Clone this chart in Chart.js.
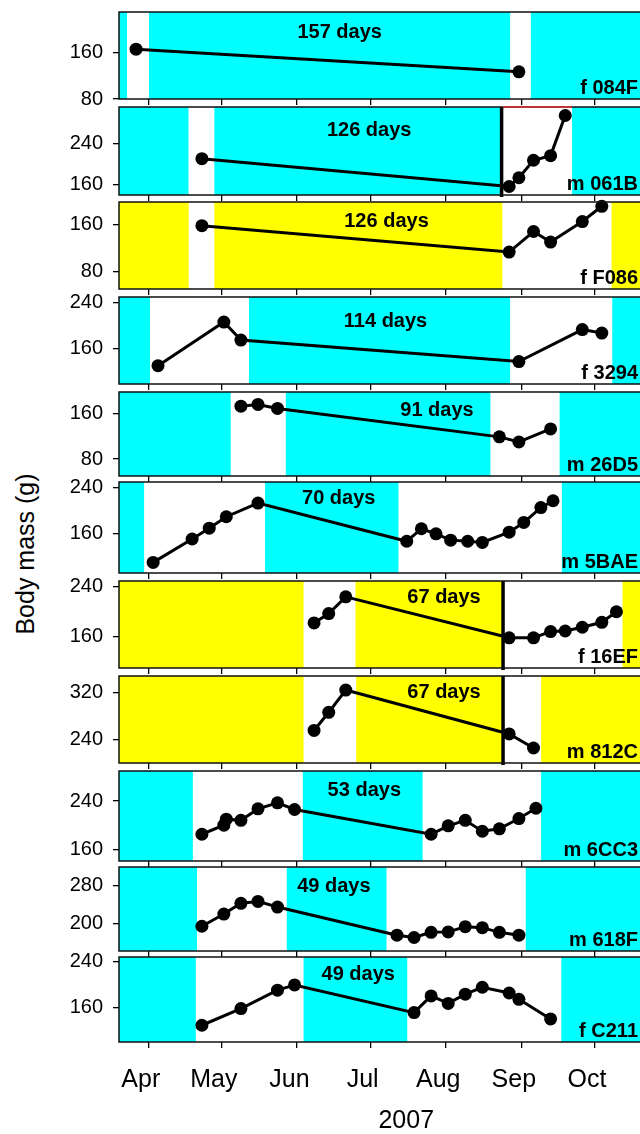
<!DOCTYPE html>
<html><head><meta charset="utf-8">
<script src="https://cdn.jsdelivr.net/npm/chart.js@4.4.1/dist/chart.umd.min.js"></script>
<style>
html,body{margin:0;padding:0;background:#fff;overflow:hidden;width:640px;height:1134px}
#wrap{position:relative;width:640px;height:1134px;overflow:hidden;background:#fff}
canvas.panel{position:absolute;left:0}
#ytitle{position:absolute;left:-125px;top:539px;width:300px;height:30px;line-height:30px;text-align:center;
 font-family:"Liberation Sans",Arial,Helvetica,sans-serif;font-size:25px;color:#000;transform:rotate(-90deg);transform-origin:50% 50%;white-space:nowrap}
</style></head><body><div id="wrap"><div id="ytitle">Body mass (g)</div></div>
<script>
// ---------- data (day of year 2007) ----------
const monthDays   = [91, 121, 152, 182, 213, 244, 274];
const monthLabels = ['Apr', 'May', 'Jun', 'Jul', 'Aug', 'Sep', 'Oct'];
const xTitle = '2007';
const yTitle = 'Body mass (g)';

const animalIds = ['f 084F','m 061B','f F086','f 3294','m 26D5','m 5BAE','f 16EF','m 812C','m 6CC3','m 618F','f C211'];
const dayCounts = [157, 126, 126, 114, 91, 70, 67, 67, 53, 49, 49];

const days_084F = [86, 243];
const mass_084F = [166, 127];
const days_061B = [113, 239, 243, 249, 256, 262];
const mass_061B = [211, 157, 174, 208, 217, 295];
const days_F086 = [113, 239, 249, 256, 269, 277];
const mass_F086 = [158, 113, 148, 130, 165, 191];
const days_3294 = [95, 122, 129, 243, 269, 277];
const mass_3294 = [131, 206, 175, 138, 193, 187];
const days_26D5 = [129, 136, 144, 235, 243, 256];
const mass_26D5 = [173, 176, 169, 119, 110, 133];
const days_5BAE = [93, 109, 116, 123, 136, 197, 203, 209, 215, 222, 228, 239, 245, 252, 257];
const mass_5BAE = [109, 150, 169, 189, 213, 146, 168, 159, 148, 146, 144, 162, 179, 205, 217];
const days_16EF = [159, 165, 172, 239, 249, 256, 262, 269, 277, 283];
const mass_16EF = [182, 197, 224, 158, 158, 168, 169, 175, 183, 200];
const days_812C = [159, 165, 172, 239, 249];
const mass_812C = [255, 286, 324, 249, 225];
const days_6CC3 = [113, 122, 123, 129, 136, 144, 151, 207, 214, 221, 228, 235, 243, 250];
const mass_6CC3 = [185, 200, 210, 208, 227, 237, 226, 185, 199, 208, 190, 194, 211, 228];
const days_618F = [113, 122, 129, 136, 144, 193, 200, 207, 214, 221, 228, 235, 243];
const mass_618F = [194, 220, 243, 247, 235, 175, 170, 181, 182, 193, 191, 181, 175];
const days_C211 = [113, 129, 144, 151, 200, 207, 214, 221, 228, 239, 243, 256];
const mass_C211 = [129, 158, 190, 199, 151, 180, 167, 183, 195, 185, 174, 140];

// hibernation (shaded) periods, start/end day
const hib_084F = [[60, 82.3], [91.3, 239.4], [247.9, 330]];
const hib_061B = [[60, 107.5], [118.1, 235.5], [264.8, 330]];
const hib_F086 = [[60, 107.6], [118.1, 236.2], [281.0, 330]];
const hib_3294 = [[60, 91.7], [132.3, 239.4], [281.3, 330]];
const hib_26D5 = [[60, 124.8], [147.4, 231.3], [259.7, 330]];
const hib_5BAE = [[60, 89.3], [138.9, 193.6], [260.6, 330]];
const hib_16EF = [[60, 154.7], [176.0, 236.2], [285.5, 330]];
const hib_812C = [[60, 154.7], [176.3, 236.2], [252.1, 330]];
const hib_6CC3 = [[60, 109.3], [154.4, 203.5], [252.1, 330]];
const hib_618F = [[60, 111.0], [147.8, 188.7], [245.8, 330]];
const hib_C211 = [[60, 110.5], [154.7, 197.2], [260.4, 330]];

// marker day (thick vertical line), null if none
const markerDays = [null, 235.9, null, null, null, null, 236.5, 236.5, null, null, null];
// thin red segment on the top edge (panel m 061B), start/end day
const redTopSeg = [null, [236.5, 264.8], null, null, null, null, null, null, null, null, null];

// y-axis tick values and ranges
const yTicksList = [[80,160],[160,240],[80,160],[160,240],[80,160],[160,240],[160,240],[240,320],[160,240],[200,280],[160,240]];
const yRanges = [[80,230.3],[140.5,311.5],[50.1,198.3],[99.4,249.1],[50.2,197.9],[90.4,249.9],[109.3,249.6],[199.4,348],[140.7,289.7],[141.2,320.4],[99.9,247.6]];

// day label position (day of year)
const dayLabelDay = [169.5, 181.6, 188.7, 188.3, 209.4, 169.1, 212.3, 212.3, 179.6, 167.1, 177.1];

// ---------- layout / style ----------
const CYAN = '#00FFFF', YELLOW = '#FFFF00';
const shadeColors = [CYAN, CYAN, YELLOW, CYAN, CYAN, CYAN, YELLOW, YELLOW, CYAN, CYAN, CYAN];
const panelTop    = [12, 107, 202, 297, 392, 482, 581, 676, 771, 867, 957];
const panelBottom = [99, 195, 289, 384, 476, 573, 668, 763, 861, 951, 1042];
const dayLabelDy  = [19.5, 22.7, 18.3, 23.3, 17.6, 15.6, 15.3, 15.7, 18.6, 18.3, 16];
const FONT = '"Liberation Sans", Arial, Helvetica, sans-serif';
const CW = 700, PT = 14, YAXW = 119;
const PX_PER_DAY = 2.466;
const X_MIN = 79.0, X_MAX = 79.0 + (CW - YAXW) / PX_PER_DAY;

const allDays = [days_084F, days_061B, days_F086, days_3294, days_26D5, days_5BAE, days_16EF, days_812C, days_6CC3, days_618F, days_C211];
const allMass = [mass_084F, mass_061B, mass_F086, mass_3294, mass_26D5, mass_5BAE, mass_16EF, mass_812C, mass_6CC3, mass_618F, mass_C211];
const allHib  = [hib_084F, hib_061B, hib_F086, hib_3294, hib_26D5, hib_5BAE, hib_16EF, hib_812C, hib_6CC3, hib_618F, hib_C211];

const panelPlugin = {
  id: 'panelDeco',
  beforeDatasetsDraw(chart) {
    const o = chart.options.plugins.panelDeco;
    const {ctx, chartArea: a, scales: {x}} = chart;
    ctx.save();
    ctx.beginPath(); ctx.rect(a.left, a.top, a.right - a.left, a.bottom - a.top); ctx.clip();
    ctx.fillStyle = o.color;
    o.hib.forEach(([s, e]) => {
      const x0 = x.getPixelForValue(s), x1 = x.getPixelForValue(e);
      ctx.fillRect(x0, a.top, x1 - x0, a.bottom - a.top);
    });
    ctx.restore();
    if (o.marker != null) {
      const xm = x.getPixelForValue(o.marker);
      ctx.save();
      ctx.strokeStyle = '#000'; ctx.lineWidth = 3.5;
      ctx.beginPath(); ctx.moveTo(xm, a.top); ctx.lineTo(xm, a.bottom + 2); ctx.stroke();
      ctx.restore();
    }
  },
  afterDraw(chart) {
    const o = chart.options.plugins.panelDeco;
    const {ctx, chartArea: a, scales: {x}} = chart;
    ctx.save();
    ctx.strokeStyle = '#111'; ctx.lineWidth = 1.5;
    ctx.strokeRect(a.left, a.top, a.right - a.left, a.bottom - a.top);
    if (o.redSeg) {
      ctx.strokeStyle = '#E03030'; ctx.lineWidth = 1.5;
      ctx.beginPath();
      ctx.moveTo(x.getPixelForValue(o.redSeg[0]), a.top);
      ctx.lineTo(x.getPixelForValue(o.redSeg[1]), a.top);
      ctx.stroke();
    }
    ctx.fillStyle = '#000';
    ctx.font = 'bold 20px ' + FONT;
    ctx.textAlign = 'center'; ctx.textBaseline = 'middle';
    ctx.fillText(o.daysText, x.getPixelForValue(o.labelDay), a.top + o.labelDy + 1);
    ctx.textAlign = 'right'; ctx.textBaseline = 'alphabetic';
    ctx.fillText(o.idText, 638, a.bottom - 5);
    ctx.restore();
  }
};

const wrap = document.getElementById('wrap');
animalIds.forEach((id, i) => {
  const isLast = i === animalIds.length - 1;
  const ph = panelBottom[i] - panelTop[i];
  const axisH = isLast ? (1140 - panelBottom[i]) : 10;
  const H = PT + ph + axisH;
  const cv = document.createElement('canvas');
  cv.className = 'panel';
  cv.width = CW; cv.height = H;
  cv.style.width = CW + 'px'; cv.style.height = H + 'px';
  cv.style.top = (panelTop[i] - PT) + 'px';
  wrap.appendChild(cv);
  const pts = allDays[i].map((d, k) => ({x: d, y: allMass[i][k]}));
  new Chart(cv, {
    type: 'line',
    data: { datasets: [{
      data: pts, borderColor: '#000', backgroundColor: '#000', borderWidth: 3,
      pointRadius: 6.5, pointHoverRadius: 6.5, pointBorderWidth: 0, tension: 0, clip: false
    }]},
    options: {
      responsive: false, animation: false, events: [],
      layout: { padding: { top: PT, left: 0, right: 0, bottom: 0 } },
      plugins: {
        legend: { display: false }, tooltip: { enabled: false },
        panelDeco: { color: shadeColors[i], hib: allHib[i], marker: markerDays[i], redSeg: redTopSeg[i],
          daysText: dayCounts[i] + ' days', labelDay: dayLabelDay[i], labelDy: dayLabelDy[i], idText: id }
      },
      scales: {
        x: {
          type: 'linear', min: X_MIN, max: X_MAX,
          afterBuildTicks: s => { s.ticks = monthDays.map(v => ({ value: v })); },
          ticks: { display: isLast, autoSkip: false, maxRotation: 0, color: '#000', padding: 17, labelOffset: -7.5,
            font: { size: 25, family: FONT },
            callback: v => monthLabels[monthDays.indexOf(v)] },
          grid: { drawOnChartArea: false, drawTicks: true, tickLength: 6, color: '#000', lineWidth: 1.3 },
          border: { display: false },
          title: { display: isLast, text: xTitle, color: '#000', font: { size: 25, family: FONT }, padding: { top: 0, bottom: 4 } },
          afterFit: s => { s.height = axisH; s.paddingLeft = 0; s.paddingRight = 0; }
        },
        y: {
          type: 'linear', min: yRanges[i][0], max: yRanges[i][1],
          afterBuildTicks: s => { s.ticks = yTicksList[i].map(v => ({ value: v })); },
          ticks: { color: '#000', padding: 10, font: { size: 20, family: FONT }, callback: v => String(v) },
          grid: { drawOnChartArea: false, drawTicks: true, tickLength: 6, color: '#000', lineWidth: 1.3 },
          border: { display: false },
          afterFit: s => { s.width = YAXW; s.paddingTop = 0; s.paddingBottom = 0; }
        }
      }
    },
    plugins: [panelPlugin]
  });
});
</script></body></html>
